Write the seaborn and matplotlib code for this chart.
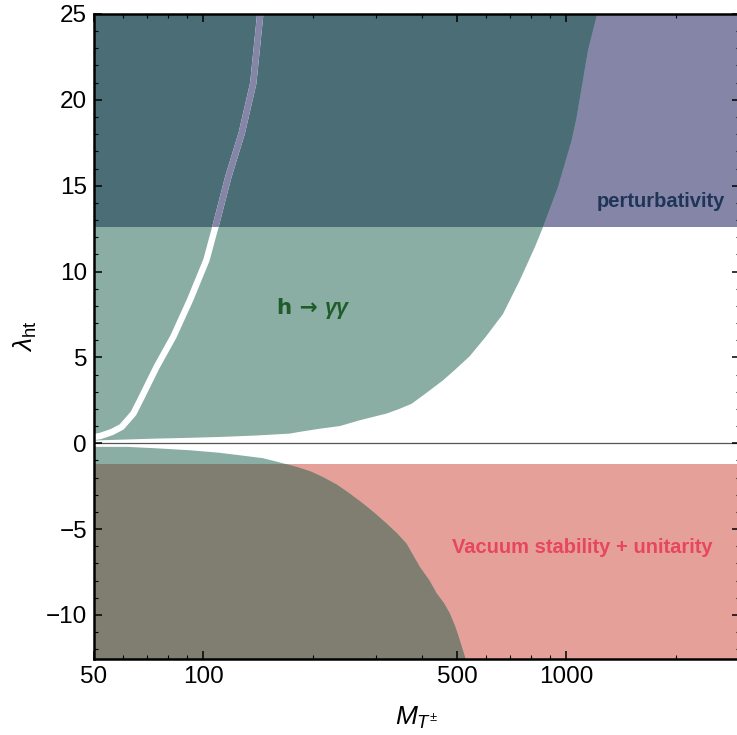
import numpy as np
import pandas as pd
import matplotlib
matplotlib.use("Agg")
import matplotlib.pyplot as plt
import matplotlib.ticker as mticker
from matplotlib.patches import Rectangle
import seaborn as sns

# axis ranges
mass_min, mass_max = 50, 3000
lam_min, lam_max = -4 * np.pi, 25.0

# perturbativity bound and vacuum stability + unitarity bound
lam_pert = 4 * np.pi
lam_vac = -1.22

# h -> gamma gamma region, lambda > 0: right / lower boundary
pos_mass = [1230, 1216, 1148, 1068, 1035, 948, 863, 820, 745, 669, 600, 542, 495, 458,
            425, 404, 375, 345, 320, 270, 238, 210, 184, 173, 140, 113, 90, 74, 60, 52, 50]
pos_lambda = [25.5, 25.0, 22.9, 19.0, 17.66, 14.9, 12.6, 11.44, 9.5, 7.52, 6.2, 5.07, 4.3, 3.67,
              3.15, 2.8, 2.3, 1.98, 1.73, 1.34, 1.0, 0.85, 0.66, 0.56, 0.45, 0.37, 0.31, 0.27, 0.21, 0.17, 0.15]

# thin excluded strip inside the positive region
gap_mass = [48, 50, 52, 56, 59.6, 64.2, 67.0, 74.4, 82.7, 91.9, 102, 108, 117.2, 127.6, 137.3, 143.4, 145]
gap_lambda = [0.33, 0.36, 0.42, 0.65, 0.95, 1.73, 2.5, 4.45, 6.2, 8.33, 10.66, 12.6, 15.5, 18.05, 20.96, 24.9, 25.6]

# h -> gamma gamma region, lambda < 0: upper / right boundary
neg_mass = [50, 61.5, 75, 92, 110, 126, 146, 166, 181, 198, 213, 233, 252, 275, 298, 320, 342, 363,
            395, 420, 440, 460, 478, 495, 509, 526, 532]
neg_lambda = [-0.21, -0.21, -0.3, -0.41, -0.55, -0.70, -0.87, -1.17, -1.38, -1.65, -1.96, -2.4, -2.9,
              -3.5, -4.1, -4.68, -5.25, -5.85, -7.2, -8.0, -8.76, -9.3, -9.92, -10.7, -11.48, -12.45, -12.8]

x_major = [50, 100, 500, 1000]
x_minor = [60, 70, 80, 90, 200, 300, 400, 600, 700, 800, 900, 2000, 3000]

c_purple = "#8585a8"
c_green = "#8aaea3"
c_teal = "#4b6e76"
c_salmon = "#e5a199"
c_gray = "#807e70"

sns.set_theme(style="ticks")
plt.rcParams["font.family"] = ["Liberation Sans", "DejaVu Sans"]
plt.rcParams["mathtext.fontset"] = "custom"
plt.rcParams["mathtext.rm"] = "Liberation Sans"
plt.rcParams["mathtext.it"] = "Liberation Sans:italic"
plt.rcParams["mathtext.bf"] = "Liberation Sans:bold"

fig, ax = plt.subplots(figsize=(7.37, 7.35), dpi=100)
fig.subplots_adjust(left=0.1275, right=1.0034, bottom=0.1034, top=0.981)
ax.set_xscale("log")
ax.set_xlim(mass_min, mass_max)
ax.set_ylim(lam_min, lam_max)

# constraint bands
ax.fill_between([mass_min, mass_max], lam_pert, 30, color=c_purple, lw=0, zorder=1)
ax.fill_between([mass_min, mass_max], -20, lam_vac, color=c_salmon, lw=0, zorder=1)

pert_box = Rectangle((mass_min, lam_pert), mass_max - mass_min, lam_max - lam_pert,
                     transform=ax.transData)
vac_box = Rectangle((mass_min, lam_min), mass_max - mass_min, lam_vac - lam_min,
                    transform=ax.transData)

# positive h->gg region
px = [40, 40] + pos_mass
py = [pos_lambda[-1], 30] + pos_lambda
ax.fill(px, py, color=c_green, lw=0, zorder=2)
poly2 = ax.fill(px, py, color=c_teal, lw=0, zorder=2)[0]
poly2.set_clip_path(pert_box)

# negative h->gg region
nx = [40] + neg_mass + [40]
ny = [neg_lambda[0]] + neg_lambda + [neg_lambda[-1]]
ax.fill(nx, ny, color=c_green, lw=0, zorder=2)
neg2 = ax.fill(nx, ny, color=c_gray, lw=0, zorder=2)[0]
neg2.set_clip_path(vac_box)

# excluded strip
gap = pd.DataFrame({"mass": gap_mass, "lam": gap_lambda})
sns.lineplot(data=gap, x="mass", y="lam", sort=False, estimator=None, orient="y",
             color="white", lw=4.6, ax=ax, zorder=3, solid_capstyle="butt",
             solid_joinstyle="round")
sns.lineplot(data=gap, x="mass", y="lam", sort=False, estimator=None, orient="y",
             color=c_purple, lw=4.6, ax=ax, zorder=3, solid_capstyle="butt",
             solid_joinstyle="round")
ax.lines[-1].set_clip_path(pert_box)

ax.axhline(0, color="#555555", lw=0.9, zorder=4)

# ticks
ax.xaxis.set_major_locator(mticker.FixedLocator(x_major))
ax.xaxis.set_major_formatter(mticker.FixedFormatter([str(v) for v in x_major]))
ax.xaxis.set_minor_locator(mticker.FixedLocator(x_minor))
ax.xaxis.set_minor_formatter(mticker.NullFormatter())
ax.yaxis.set_major_locator(mticker.MultipleLocator(5))
ax.yaxis.set_minor_locator(mticker.MultipleLocator(1))
ax.tick_params(which="both", direction="in", top=True, right=True, color="black",
               labelcolor="black", labelsize=17.5)
ax.tick_params(which="major", length=6, width=1.1, pad=5)
ax.tick_params(which="minor", length=3, width=0.8)
ax.xaxis.set_zorder(8)
ax.yaxis.set_zorder(8)
for s in ax.spines.values():
    s.set_linewidth(1.8)
    s.set_color("black")
    s.set_zorder(10)

ax.set_xlabel(r"$M_{T^{\pm}}$", fontsize=19, labelpad=12, color="black")
ax.set_ylabel(r"$\lambda_{\mathrm{ht}}$", fontsize=19, labelpad=5, color="black")

# region labels
ax.text(0.878, 0.7085, "perturbativity", transform=ax.transAxes, ha="center", va="center",
        fontsize=14.5, fontweight="bold", color="#1f3557", zorder=5)
ax.text(0.756, 0.1736, "Vacuum stability + unitarity", transform=ax.transAxes, ha="center",
        va="center", fontsize=14.5, fontweight="bold", color="#e8455f", zorder=5)
ax.text(0.347, 0.544, "h \u2192", transform=ax.transAxes, ha="right", va="center",
        fontsize=15.5, fontweight="bold", color="#1e5c2a", zorder=5,
        family=["DejaVu Sans"])
ax.text(0.357, 0.544, "\u03b3\u03b3", transform=ax.transAxes, ha="left", va="center",
        fontsize=15.5, fontweight="bold", fontstyle="italic", color="#1e5c2a", zorder=5)

fig.savefig("out.png", dpi=100)
